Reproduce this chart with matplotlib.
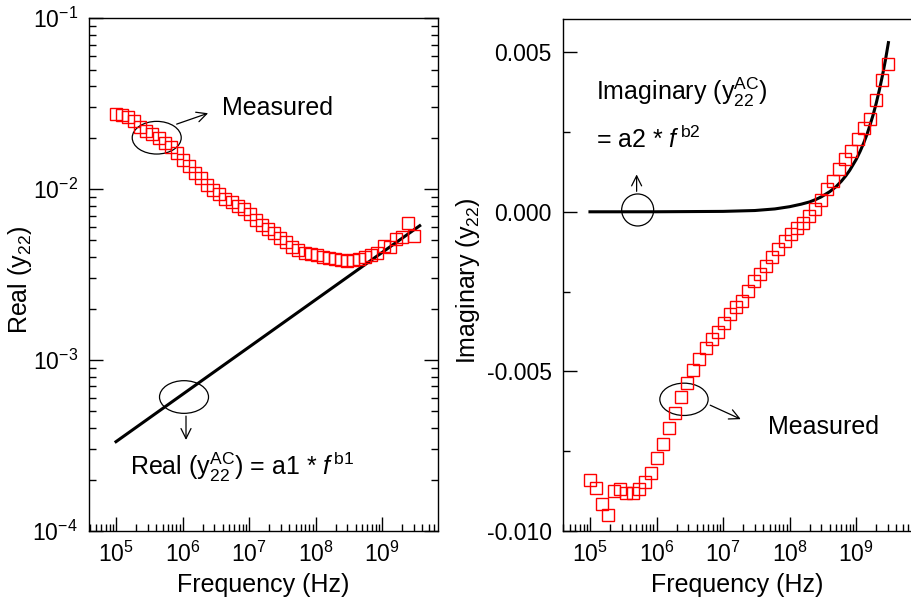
import matplotlib
matplotlib.use("Agg")
import matplotlib.pyplot as plt
from matplotlib.patches import Ellipse

plt.rcParams['font.family'] = ['Liberation Sans', 'DejaVu Sans']
plt.rcParams['mathtext.fontset'] = 'custom'
plt.rcParams['mathtext.rm'] = 'Liberation Sans'
plt.rcParams['mathtext.it'] = 'Liberation Sans:italic'
plt.rcParams['mathtext.bf'] = 'Liberation Sans:bold'
plt.rcParams['axes.unicode_minus'] = False

# measured sweep, 100 kHz .. 3 GHz
freq = [1.000e5, 1.234e5, 1.523e5, 1.880e5, 2.320e5, 2.863e5, 3.533e5, 4.361e5, 5.382e5, 6.642e5,
        8.196e5, 1.012e6, 1.249e6, 1.541e6, 1.902e6, 2.347e6, 2.897e6, 3.575e6, 4.412e6, 5.445e6,
        6.720e6, 8.294e6, 1.024e7, 1.263e7, 1.559e7, 1.924e7, 2.375e7, 2.931e7, 3.617e7, 4.464e7,
        5.510e7, 6.800e7, 8.392e7, 1.036e8, 1.278e8, 1.578e8, 1.947e8, 2.403e8, 2.966e8, 3.660e8,
        4.517e8, 5.575e8, 6.880e8, 8.491e8, 1.048e9, 1.293e9, 1.596e9, 1.970e9, 2.431e9, 3.000e9]

real_y22 = [0.0275, 0.0271, 0.0265, 0.0250, 0.0231, 0.0218, 0.0209, 0.0198, 0.0187, 0.0175,
            0.0162, 0.0148, 0.0136, 0.0124, 0.0116, 0.0106, 0.0099, 0.0093, 0.0088, 0.0084,
            0.0080, 0.0076, 0.0071, 0.0066, 0.0062, 0.0058, 0.0055, 0.0052, 0.0049, 0.0046,
            0.0044, 0.00425, 0.00415, 0.0041, 0.0040, 0.00394, 0.00388, 0.00385, 0.00381, 0.00386,
            0.0039, 0.00403, 0.0041, 0.0042, 0.00465, 0.00456, 0.00508, 0.00522, 0.0063, 0.00531]

imag_y22 = [-0.00840, -0.00865, -0.00914, -0.00951, -0.00874, -0.00867, -0.00880, -0.00880, -0.00867, -0.00848,
            -0.00817, -0.00770, -0.00726, -0.00678, -0.00629, -0.00580, -0.00535, -0.00495, -0.00462, -0.00428,
            -0.00399, -0.00375, -0.00348, -0.00320, -0.00298, -0.00278, -0.00249, -0.00218, -0.00196, -0.00170,
            -0.00143, -0.00115, -0.00092, -0.00068, -0.00052, -0.00034, -0.00012, 0.00008, 0.00037, 0.00071,
            0.00097, 0.00134, 0.00166, 0.00192, 0.00229, 0.00263, 0.00292, 0.00351, 0.00412, 0.00462]

# fitted models
fit1_f = [1.0e5, 3.66e9]
fit1_real = [3.33e-4, 6.1e-3]

fit2_f = [1e5, 1e6, 1e7, 3e7, 6e7, 1e8, 1.5e8, 2e8, 2.5e8, 3e8, 4e8, 5e8, 6e8, 7e8, 8e8,
          1e9, 1.15e9, 1.3e9, 1.45e9, 1.6e9, 1.8e9, 2e9, 2.25e9, 2.5e9, 2.75e9, 3.05e9]
fit2_imag = [0.0, 0.000001, 0.000013, 0.00004, 0.00009, 0.00016, 0.00024, 0.00031, 0.00039, 0.00047,
             0.00063, 0.00079, 0.00096, 0.00113, 0.00130, 0.00164, 0.00190, 0.00216, 0.00242,
             0.00269, 0.00304, 0.00340, 0.00385, 0.00430, 0.00475, 0.00530]

fig = plt.figure(figsize=(9.12, 6.07), dpi=100)
ax1 = fig.add_axes([0.0976, 0.1252, 0.3827, 0.8451])
ax2 = fig.add_axes([0.6173, 0.1252, 0.3827, 0.8435])

#######################################
# left: real part
#######################################
ax1.plot(fit1_f, fit1_real, color='black', lw=2.2)
ax1.plot(freq, real_y22, 's', mfc='none', mec='red', ms=8.5, mew=1)
ax1.set_xscale('log')
ax1.set_yscale('log')
ax1.set_xlim(3.93e4, 6.9e9)
ax1.set_ylim(1e-4, 1e-1)
ax1.set_xticks([1e5, 1e6, 1e7, 1e8, 1e9])
ax1.set_xlabel('Frequency (Hz)', fontsize=18, labelpad=4)
ax1.set_ylabel('Real (y$_{22}$)', fontsize=18)
ax1.yaxis.set_label_coords(-0.158, 0.49)

ax1.text(0.381, 0.8246, 'Measured', transform=ax1.transAxes, fontsize=18, ha='left', va='center')
ax1.add_patch(Ellipse((0.194, 0.7667), 0.1404, 0.0637, transform=ax1.transAxes,
                      fill=False, ec='black', lw=0.9))
ax1.annotate('', xy=(0.3487, 0.8162), xytext=(0.2436, 0.7914), xycoords='axes fraction',
             arrowprops=dict(arrowstyle='->', color='black', lw=0.9, mutation_scale=18))
ax1.add_patch(Ellipse((0.2722, 0.2612), 0.1404, 0.0637, transform=ax1.transAxes,
                      fill=False, ec='black', lw=0.9))
ax1.annotate('', xy=(0.2779, 0.1721), xytext=(0.2779, 0.2294), xycoords='axes fraction',
             arrowprops=dict(arrowstyle='->', color='black', lw=0.9, mutation_scale=18))
ax1.text(0.1175, 0.1092, r'Real (y$_{22}^{\mathrm{AC}}$) = a1 * $\mathit{f}^{\,\mathrm{b1}}$',
         transform=ax1.transAxes, fontsize=18, ha='left', va='baseline')

#######################################
# right: imaginary part
#######################################
ax2.plot(fit2_f, fit2_imag, color='black', lw=2.2)
ax2.plot(freq, imag_y22, 's', mfc='none', mec='red', ms=8.5, mew=1)
ax2.set_xscale('log')
ax2.set_xlim(3.93e4, 6.9e9)
ax2.set_ylim(-0.010, 0.00604)
ax2.set_xticks([1e5, 1e6, 1e7, 1e8, 1e9])
ax2.set_yticks([-0.010, -0.005, 0.0, 0.005])
ax2.set_yticks([-0.0075, -0.0025, 0.0025], minor=True)
ax2.set_yticklabels(['-0.010', '-0.005', '0.000', '0.005'])
ax2.set_xlabel('Frequency (Hz)', fontsize=18, labelpad=4)
ax2.set_ylabel('Imaginary (y$_{22}$)', fontsize=18)
ax2.yaxis.set_label_coords(-0.232, 0.49)

ax2.text(0.0946, 0.8418, r'Imaginary (y$_{22}^{\mathrm{AC}}$)', transform=ax2.transAxes,
         fontsize=18, ha='left', va='baseline')
ax2.text(0.0946, 0.748, r'= a2 * $\mathit{f}^{\,\mathrm{b2}}$', transform=ax2.transAxes,
         fontsize=18, ha='left', va='baseline')
ax2.add_patch(Ellipse((0.214, 0.627), 0.0917, 0.0625, transform=ax2.transAxes,
                      fill=False, ec='black', lw=0.9))
ax2.annotate('', xy=(0.211, 0.7018), xytext=(0.211, 0.658), xycoords='axes fraction',
             arrowprops=dict(arrowstyle='->', color='black', lw=0.9, mutation_scale=18))
ax2.add_patch(Ellipse((0.3467, 0.2572), 0.1384, 0.0631, transform=ax2.transAxes,
                      fill=False, ec='black', lw=0.9))
ax2.annotate('', xy=(0.5166, 0.2162), xytext=(0.4146, 0.248), xycoords='axes fraction',
             arrowprops=dict(arrowstyle='->', color='black', lw=0.9, mutation_scale=18))
ax2.text(0.5865, 0.2037, 'Measured', transform=ax2.transAxes, fontsize=18, ha='left', va='center')

for ax in (ax1, ax2):
    ax.tick_params(which='both', direction='in', top=False, labelsize=16.5, width=1)
    ax.tick_params(which='major', length=10, pad=8)
    ax.tick_params(which='minor', length=5)
    for s in ax.spines.values():
        s.set_linewidth(1)
ax1.tick_params(which='both', right=True)
ax2.tick_params(which='both', right=False)

fig.savefig('out.png', dpi=100)
